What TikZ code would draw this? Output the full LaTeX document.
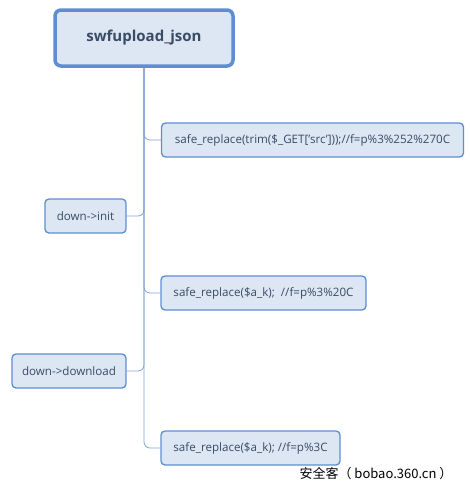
\documentclass[tikz,border=0pt]{standalone}
\usepackage{fontspec}
\setmainfont{Open Sans}
\newfontfamily\cjk{Noto Sans CJK SC}
\definecolor{bfill}{HTML}{DDE6F3}
\definecolor{bdraw}{HTML}{5E8ED2}
\definecolor{btext}{HTML}{3A4B66}
\definecolor{lcol}{HTML}{7FA3D6}
\begin{document}
\begin{tikzpicture}[x=1pt,y=-1pt,
  box/.style={draw=bdraw,fill=bfill,line width=1.3pt,rounded corners=4pt,inner sep=0pt,
    font=\fontsize{11.6}{13}\selectfont,text=btext,anchor=center},
  conn/.style={draw=lcol,line width=0.8pt,rounded corners=6pt}]
\useasboundingbox (0,0) rectangle (469,493);
\node[box,line width=3.5pt,rounded corners=6pt,minimum width=178,minimum height=56,
  font=\fontsize{15}{18}\selectfont\bfseries] (root) at (144,38) {swfupload\_json};
\node[box,minimum width=302,minimum height=34] (b1) at (312.5,140) {safe\_replace(trim(\$\_GET['src']));//f=p\%3\%252\%270C\hspace{3pt}};
\node[box,minimum width=81,minimum height=34] (init) at (85.5,216) {down->init};
\node[box,minimum width=205,minimum height=34] (b2) at (263.5,293) {safe\_replace(\$a\_k);\ \ //f=p\%3\%20C\hspace{3pt}};
\node[box,minimum width=114,minimum height=34] (dl) at (69,371) {down->download};
\node[box,minimum width=179,minimum height=34] (b3) at (250.5,448) {safe\_replace(\$a\_k); //f=p\%3C\hspace{3pt}};
\draw[conn] (root.south) |- (b1.west);
\draw[conn] (root.south) |- (b2.west);
\draw[conn] (root.south) |- (b3.west);
\draw[conn] (init.east) -| (root.south);
\draw[conn] (dl.east) -| (root.south);
\node[font=\cjk\fontsize{13}{15}\selectfont,text=black,inner sep=0pt] (wm) at (376,474) {安全客（ bobao.360.cn ）};
\end{tikzpicture}
\end{document}
